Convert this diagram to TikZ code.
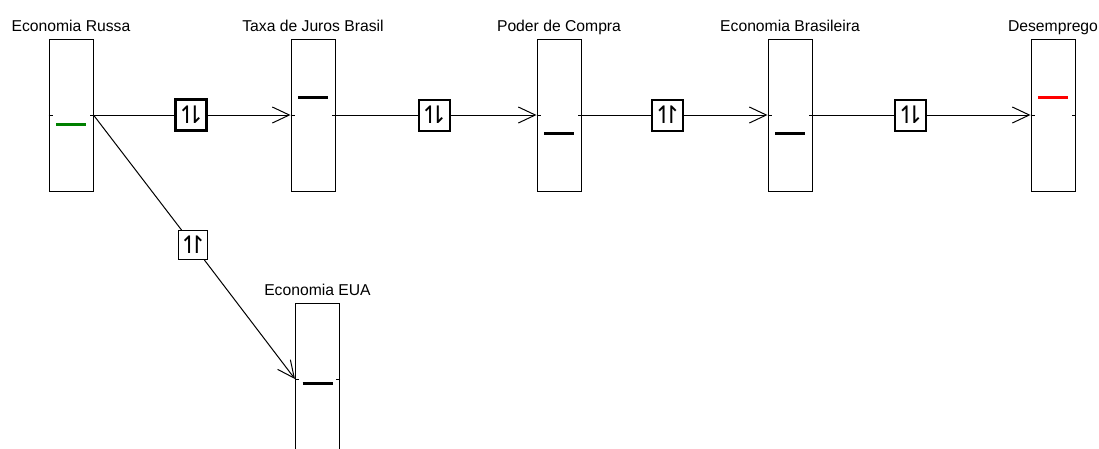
\documentclass[tikz,border=0pt]{standalone}
\usepackage{fontspec}
\setmainfont{Liberation Sans}
\newfontfamily\symfont{DejaVu Sans}
\usetikzlibrary{arrows.meta}
\definecolor{barGreen}{RGB}{0,128,0}
\definecolor{barRed}{RGB}{255,0,0}
% harpoon pairs for the relation boxes
\newcommand{\updown}{↿\kern-12.5pt⇂}
\newcommand{\upup}{↿\kern-12.5pt↾}
\tikzset{
  level/.style={draw, line width=1pt, minimum width=44pt, minimum height=152pt, inner sep=0pt},
  lvllabel/.style={anchor=base, font=\fontsize{15.7}{18}\selectfont},
  relbox/.style={draw, fill=white, inner sep=0pt, minimum size=31pt, font=\symfont\fontsize{24}{24}\selectfont},
  flow/.style={line width=1pt, -{Straight Barb[length=17pt,width=16pt,line width=1pt]}},
}
\begin{document}
\begin{tikzpicture}[x=1pt, y=-1pt]
\useasboundingbox (0,0) rectangle (1099,448);
\clip (0,0) rectangle (1099,448);
% level boxes
\node[level] (russa) at (71,115) {};
\node[level] (juros) at (313,115) {};
\node[level] (compra) at (559,115) {};
\node[level] (brasil) at (790,115) {};
\node[level] (desemp) at (1053,115) {};
\node[level] (eua) at (317.5,379) {};
% titles
\node[lvllabel] at ([yshift=7pt]russa.north) {Economia Russa};
\node[lvllabel] at ([yshift=7pt]juros.north) {Taxa de Juros Brasil};
\node[lvllabel] at ([yshift=7pt]compra.north) {Poder de Compra};
\node[lvllabel] at ([yshift=7pt]brasil.north) {Economia Brasileira};
\node[lvllabel] at ([yshift=7pt]desemp.north) {Desemprego};
\node[lvllabel] at ([yshift=7pt]eua.north) {Economia EUA};
% mid ticks and level bars
\foreach \n/\d/\c in {russa/9/barGreen, juros/-18/black, compra/18/black,
                      brasil/18/black, desemp/-18/barRed, eua/4/black} {
  \draw[line width=1pt] (\n.west) -- ++(4,0);
  \draw[line width=1pt] (\n.east) -- ++(-4,0);
  \draw[line width=3pt, \c] ([shift={(-15,\d)}]\n.center) -- ++(30,0);
}
% relation boxes
\node[relbox, line width=3pt] (k1) at (191,115) {\updown};
\node[relbox, line width=2pt] (k2) at (434,115) {\updown};
\node[relbox, line width=2pt] (k3) at (667.5,115) {\upup};
\node[relbox, line width=2pt] (k4) at (910.5,115) {\updown};
\node[relbox, line width=1pt, minimum size=29pt] (k5) at (193,245) {\upup};
% links
\draw[flow] (russa.east) -- (k1) -- (juros.west);
\draw[flow] (juros.east) -- (k2) -- (compra.west);
\draw[flow] (compra.east) -- (k3) -- (brasil.west);
\draw[flow] (brasil.east) -- (k4) -- (desemp.west);
\draw[flow] (russa.east) -- (k5) -- (eua.west);
\end{tikzpicture}
\end{document}
